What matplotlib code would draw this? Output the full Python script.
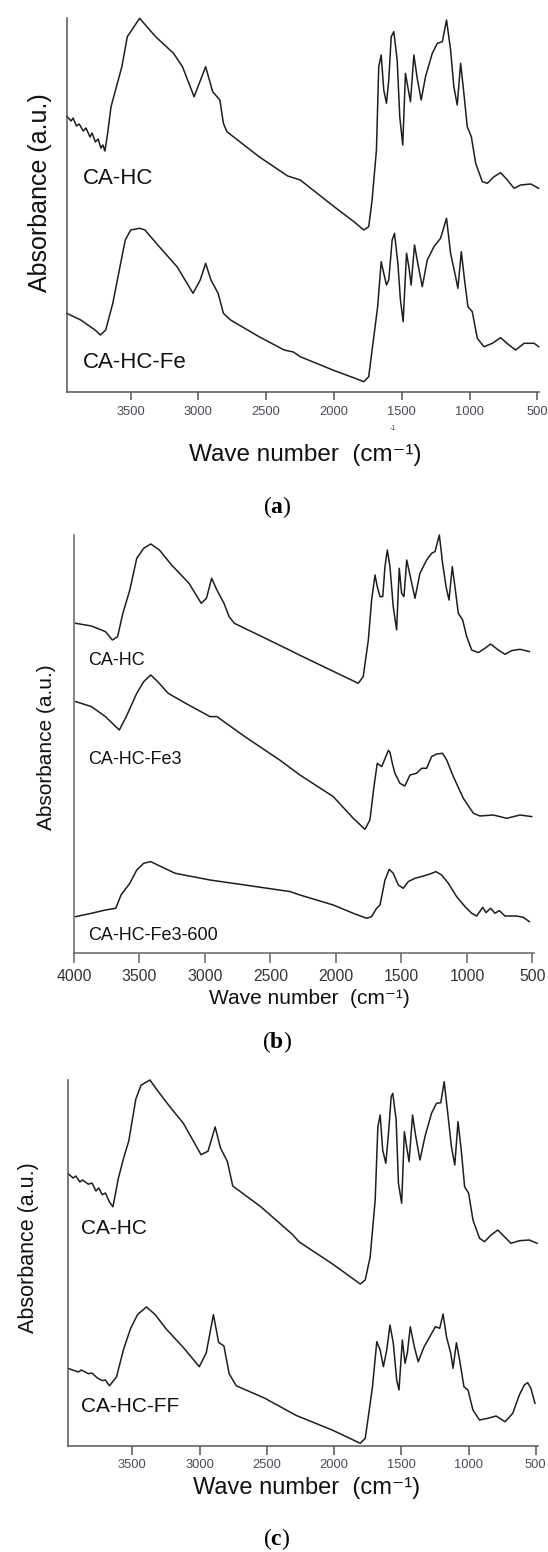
import matplotlib
matplotlib.use("Agg")
import matplotlib.pyplot as plt

plt.rcParams["font.family"] = ["Liberation Sans", "DejaVu Sans"]
plt.rcParams["mathtext.fontset"] = "custom"
plt.rcParams["mathtext.bf"] = "Liberation Serif:bold"
plt.rcParams["mathtext.rm"] = "Liberation Serif"

W, H = 548, 1552

# ---- panel (a): CA-HC vs CA-HC-Fe ----
wn_a_hc = [3972, 3940, 3925, 3900, 3880, 3850, 3830, 3800, 3785, 3760, 3740, 3720,
           3705, 3690, 3670, 3645, 3565, 3525, 3434, 3316,
           3184, 3118, 3032, 2947, 2895, 2842, 2816, 2790, 2553, 2342, 2249, 2000,
           1850, 1781, 1744, 1719, 1687, 1670, 1652, 1633, 1613, 1596, 1578, 1559,
           1534, 1515, 1493, 1473, 1456, 1436, 1411, 1386, 1357, 1325, 1275, 1238,
           1201, 1170, 1140, 1116, 1091, 1066, 1042, 1017, 987, 955, 906, 869, 820,
           771, 721, 672, 623, 549, 490]
ab_a_hc = [276, 271, 274, 266, 268, 261, 264, 255, 259, 250, 253, 244,
           247, 241, 258.7, 285.3, 325.3, 355.3, 373.7, 355.3,
           338.7, 325.3, 295.3, 325.3, 300.3, 292, 268.7, 260.3, 235.3, 216, 212, 185.4,
           170, 162, 165.3, 192, 242, 325.3, 337, 302, 288.7, 312, 355.3, 360.3,
           332, 275.3, 247, 318.7, 305.3, 290.3, 337, 313.7, 292, 315.3, 338.7, 348.7,
           350.3, 372, 342, 305.3, 287, 328.7, 298.7, 265.3, 255.3, 228.7, 210.3, 208.7, 215.3,
           219.3, 212, 203.7, 207, 208, 203.7]

wn_a_fe = [3972, 3868, 3763, 3724, 3684, 3632, 3579, 3540, 3500, 3434, 3395, 3289,
           3158, 3040, 2987, 2947, 2908, 2855, 2816, 2763, 2553, 2368, 2300, 2249,
           2000, 1850, 1781, 1744, 1719, 1678, 1652, 1633, 1613, 1596, 1571, 1554,
           1529, 1510, 1490, 1465, 1448, 1431, 1406, 1382, 1349, 1312, 1263, 1214,
           1170, 1140, 1103, 1086, 1061, 1037, 1012, 980, 943, 894, 832, 771, 709,
           660, 598, 524, 490]
ab_a_fe = [78.7, 72, 62, 57, 62, 88.7, 125.3, 152, 162, 163.7, 162, 145.3,
           125.3, 98.7, 112, 128.7, 112, 98.7, 78.7, 72, 55.3, 42, 40, 35.3,
           21.5, 14, 10.3, 15.3, 42, 85.3, 130.3, 118.7, 107, 112, 152, 158.7,
           128.7, 92, 70.3, 138.7, 125.3, 107, 147, 128.7, 105.3, 132, 145.3, 153.7,
           173.7, 138.7, 115.3, 103.7, 140.3, 112, 85.3, 80.3, 53.7, 45.3, 48.7, 54.3, 47,
           42, 48.7, 48.7, 45.3]

# ---- panel (b): CA-HC, CA-HC-Fe3, CA-HC-Fe3-600 ----
wn_b_hc = [3987, 3867, 3760, 3707, 3667, 3627, 3574, 3521, 3468, 3414, 3348, 3255,
           3122, 3029, 2989, 2949, 2909, 2855, 2816, 2776, 2563, 2376, 2275, 2021,
           1830, 1792, 1753, 1728, 1702, 1685, 1664, 1643, 1626, 1608, 1588, 1563,
           1537, 1517, 1499, 1481, 1460, 1435, 1397, 1359, 1308, 1270, 1244, 1211,
           1186, 1160, 1137, 1112, 1092, 1066, 1033, 1002, 964, 913, 863, 819, 761,
           710, 659, 595, 524]
ab_b_hc = [330, 327.3, 321.7, 313.3, 316.7, 340, 363.3, 395, 405, 409.3, 403.3, 388.3,
           370, 350, 355, 375, 363.3, 350, 336.7, 330, 316.5, 304.6, 298, 282,
           270, 276.7, 313.3, 353.3, 378.3, 366.7, 356.7, 356.7, 386.7, 403.3, 386.7, 346.7,
           323.3, 385, 360, 356.7, 393.3, 378.3, 355, 380, 393.3, 400, 401.7, 418.3,
           390, 366.7, 353.3, 386.7, 366.7, 340, 333.3, 316.7, 303.3, 300.7, 305, 309.3, 303.3,
           299, 302.7, 304, 301.7]

wn_b_fe3 = [3987, 3867, 3760, 3681, 3654, 3601, 3521, 3468, 3414, 3361, 3281, 3148,
            2962, 2909, 2696, 2430, 2275, 2021, 1868, 1779, 1741, 1710, 1685, 1651,
            1625, 1600, 1588, 1570, 1550, 1512, 1474, 1435, 1385, 1346, 1308, 1270,
            1232, 1186, 1155, 1104, 1028, 951, 901, 799, 697, 595, 506]
ab_b_fe3 = [251.7, 246.7, 236.7, 226.7, 223.3, 236.7, 260, 271.7, 278.3, 271.7, 260, 250,
            236.7, 236.7, 216.7, 193.3, 178.3, 156.7, 135, 124, 133.3, 166.7, 190, 186.7,
            195, 203, 201, 190, 180, 170, 167.3, 178.3, 180, 185, 185, 196.7,
            199.3, 200, 193.3, 176.7, 155, 140, 137.3, 138.3, 135, 138.3, 136.7]

wn_b_600 = [3987, 3867, 3760, 3681, 3641, 3574, 3521, 3468, 3414, 3361, 3228, 2962,
            2696, 2350, 2275, 2021, 1868, 1766, 1728, 1690, 1664, 1626, 1593, 1563,
            1524, 1486, 1448, 1397, 1333, 1282, 1237, 1193, 1142, 1079, 1015, 964,
            926, 880, 855, 819, 786, 753, 710, 621, 570, 524]
ab_b_600 = [36.7, 40, 43.3, 45, 58.3, 70, 83.3, 90, 91.7, 88.3, 80, 73.3,
            68.3, 61.7, 58.3, 48.3, 40, 35, 36.7, 45, 48.3, 73.3, 84, 80,
            68.3, 65, 71.7, 75, 77.3, 79.3, 81.7, 78.3, 70, 56.7, 46.7, 40,
            37.3, 46, 40.7, 45, 40, 42.7, 37.3, 37.3, 36, 31.7]

# ---- panel (c): CA-HC vs CA-HC-FF ----
wn_c_hc = [3976, 3940, 3920, 3890, 3870, 3827, 3800, 3770, 3750, 3723, 3700, 3670,
           3644, 3605, 3565, 3526, 3474, 3435, 3369, 3304, 3225,
           3120, 2989, 2937, 2884, 2845, 2793, 2753, 2544, 2308, 2261, 2000, 1805,
           1768, 1731, 1694, 1674, 1657, 1638, 1615, 1595, 1575, 1563, 1538, 1521,
           1497, 1477, 1460, 1442, 1416, 1394, 1361, 1324, 1275, 1238, 1206, 1181,
           1157, 1127, 1102, 1078, 1054, 1029, 999, 967, 918, 881, 832, 782, 733,
           684, 622, 548, 490]
ab_c_hc = [272.2, 268, 270, 264, 266, 261.8, 263, 255, 258, 251.3, 253, 244,
           239.2, 267.0, 287.8, 305.2, 346.9, 360.8, 366.0, 353.9, 340.0,
           322.6, 291.3, 294.8, 319.1, 298.3, 284.4, 260.0, 239.2, 211.4, 204.3, 181, 162,
           166, 189.3, 246, 319.3, 331, 296, 282.7, 312.7, 349.3, 352.7, 326, 262.7,
           242.7, 314.3, 299.3, 284.3, 331, 311, 286, 309.3, 332.7, 342.7, 343.3, 364.3,
           336, 299.3, 281, 324.3, 296, 259.3, 252.7, 226, 207.7, 204.3, 211, 216, 209.3,
           202.7, 205.3, 206, 202.7]

wn_c_ff = [3976, 3900, 3880, 3827, 3800, 3760, 3723, 3700, 3670, 3618, 3565, 3513,
           3461, 3395, 3330, 3251, 3120,
           3002, 2950, 2897, 2858, 2819, 2780, 2727, 2518, 2282, 2014, 1805, 1768,
           1738, 1714, 1682, 1657, 1633, 1608, 1584, 1559, 1534, 1517, 1492, 1472,
           1455, 1433, 1403, 1374, 1330, 1288, 1246, 1214, 1189, 1164, 1132, 1115,
           1090, 1066, 1034, 1004, 967, 918, 856, 795, 728, 671, 622, 585, 560,
           536, 506]
ab_c_ff = [77.5, 74, 76, 72.3, 73, 68, 65.4, 66, 60.2, 68.9, 96.7, 117.5,
           131.4, 139.1, 131.4, 117.5, 98.4,
           79.3, 93.2, 131.4, 103.6, 100.1, 72.3, 60.2, 48.0, 30.6, 16, 2.7, 7.7,
           36, 59.3, 104.3, 96, 79.3, 96, 121, 102.7, 66, 56, 106, 82.7,
           92.7, 119.3, 99.3, 84.3, 99.3, 109.3, 119.3, 117.7, 132, 109.3, 92.7, 77.7,
           103.3, 86, 59.3, 56, 36, 26, 27.7, 30, 24.3, 32.7, 51, 61, 63.3,
           57.7, 42.7]

ticks_ac = [3500, 3000, 2500, 2000, 1500, 1000, 500]
ticks_b = [4000, 3500, 3000, 2500, 2000, 1500, 1000, 500]


def rect(l, t, r, b):
    return [l / W, 1 - b / H, (r - l) / W, (b - t) / H]


def fx(px):
    return px / W


def fy(py):
    return 1 - py / H


def setup(ax, xlim, ylim, ticks, tsize, tcolor, tlen, tpad, scolor):
    ax.set_xlim(*xlim)
    ax.set_ylim(*ylim)
    ax.set_xticks(ticks)
    ax.set_yticks([])
    for s in ["top", "right"]:
        ax.spines[s].set_visible(False)
    for s in ["left", "bottom"]:
        ax.spines[s].set_color(scolor)
        ax.spines[s].set_linewidth(1.1)
    ax.tick_params(axis="x", direction="out", length=tlen, width=1.1, color=scolor,
                   labelsize=tsize, labelcolor=tcolor, pad=tpad)
    ax.patch.set_alpha(0)


fig = plt.figure(figsize=(W / 100, H / 100), dpi=100)
lc = "#1e1e1e"
lw = 1.1

# (a)
ax1 = fig.add_axes(rect(66.7, 18, 538.7, 392))
setup(ax1, (3972, 490), (0, 374), ticks_ac, 9.3, "#4d4858", 6, 4, "#555555")
ax1.plot(wn_a_hc, ab_a_hc, color=lc, lw=lw, clip_on=False)
ax1.plot(wn_a_fe, ab_a_fe, color=lc, lw=lw, clip_on=False)
fig.text(fx(83), fy(179), "CA-HC", fontsize=16, va="center", ha="left", color="#111111")
fig.text(fx(83), fy(363), "CA-HC-Fe", fontsize=16, va="center", ha="left", color="#111111")
fig.text(fx(40), fy(193), "Absorbance (a.u.)", fontsize=18, rotation=90,
         va="center", ha="center", color="#111111")
fig.text(fx(305), fy(455), "Wave number  (cm\u207b\u00b9)", fontsize=17.5,
         va="center", ha="center", color="#111111")
fig.text(fx(393), fy(428), "-1", fontsize=5.5, va="center", ha="center", color="#7a3a4a")
fig.text(fx(277), fy(507), r"($\mathbf{a}$)", family="Liberation Serif", fontsize=17,
         va="center", ha="center")

# (b)
ax2 = fig.add_axes(rect(74, 535, 534.3, 953.3))
setup(ax2, (4000, 486), (0, 418.3), ticks_b, 11.3, "#333333", 7, 4, "#666666")
ax2.plot(wn_b_hc, ab_b_hc, color=lc, lw=lw, clip_on=False)
ax2.plot(wn_b_fe3, ab_b_fe3, color=lc, lw=lw, clip_on=False)
ax2.plot(wn_b_600, ab_b_600, color=lc, lw=lw, clip_on=False)
fig.text(fx(88), fy(660), "CA-HC", fontsize=13, va="center", ha="left", color="#111111")
fig.text(fx(88), fy(760), "CA-HC-Fe3", fontsize=13, va="center", ha="left", color="#111111")
fig.text(fx(88), fy(935), "CA-HC-Fe3-600", fontsize=13, va="center", ha="left", color="#111111")
fig.text(fx(47), fy(747), "Absorbance (a.u.)", fontsize=15, rotation=90,
         va="center", ha="center", color="#111111")
fig.text(fx(309), fy(998), "Wave number  (cm\u207b\u00b9)", fontsize=15,
         va="center", ha="center", color="#111111")
fig.text(fx(277), fy(1042), r"($\mathbf{b}$)", family="Liberation Serif", fontsize=17,
         va="center", ha="center")

# (c)
ax3 = fig.add_axes(rect(68.3, 1080, 538.3, 1446))
setup(ax3, (3976, 481), (0, 366), ticks_ac, 9.3, "#4d4858", 6.5, 3, "#555555")
ax3.plot(wn_c_hc, ab_c_hc, color=lc, lw=lw, clip_on=False)
ax3.plot(wn_c_ff, ab_c_ff, color=lc, lw=lw, clip_on=False)
fig.text(fx(81), fy(1229), "CA-HC", fontsize=15, va="center", ha="left", color="#111111")
fig.text(fx(81), fy(1407), "CA-HC-FF", fontsize=15, va="center", ha="left", color="#111111")
fig.text(fx(29), fy(1248), "Absorbance (a.u.)", fontsize=15.5, rotation=90,
         va="center", ha="center", color="#111111")
fig.text(fx(307), fy(1488), "Wave number  (cm\u207b\u00b9)", fontsize=17,
         va="center", ha="center", color="#111111")
fig.text(fx(277), fy(1539), r"($\mathbf{c}$)", family="Liberation Serif", fontsize=17,
         va="center", ha="center")

fig.savefig("out.png", dpi=100, facecolor="white")
